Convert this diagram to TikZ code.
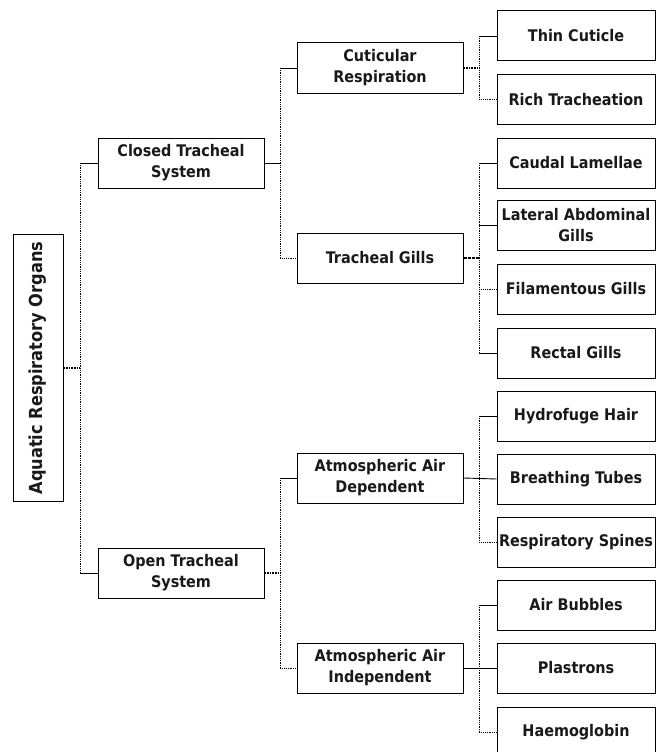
\documentclass[tikz,border=0pt]{standalone}
\usepackage{fontspec}
\setmainfont{DejaVu Sans Condensed}
\begin{document}
\begin{tikzpicture}[x=1pt,y=-1pt,
  box/.style={draw,line width=1pt,align=center,font=\bfseries\fontsize{16}{21}\selectfont,inner sep=1pt,text=black!90},
  lvl/.style={box,minimum width=166pt,minimum height=50pt},
  leaf/.style={box,minimum width=158pt,minimum height=50pt},
  solidc/.style={line width=0.9pt},
  dotc/.style={line width=0.9pt,densely dotted},
  thickdot/.style={line width=1.6pt,densely dotted},
  bus/.style={line width=0.8pt,densely dotted}]
\useasboundingbox (0,0) rectangle (656,752);
\clip (0,0) rectangle (656,752);
% root
\node[box,rotate=90,minimum width=267pt,minimum height=50pt,font=\bfseries\fontsize{18}{21}\selectfont] (root) at (38,368) {Aquatic Respiratory Organs};
% level 1
\node[lvl] (closed) at (181,163) {Closed Tracheal\\System};
\node[lvl] (open) at (181,573) {Open Tracheal\\System};
% level 2
\node[lvl] (cut) at (380,68) {Cuticular\\Respiration};
\node[lvl] (tg) at (380,258) {Tracheal Gills};
\node[lvl] (aad) at (380,478) {Atmospheric Air\\Dependent};
\node[lvl] (aai) at (380,668) {Atmospheric Air\\Independent};
% leaves
\node[leaf] (thin) at (576,36) {Thin Cuticle};
\node[leaf] (rich) at (576,99.5) {Rich Tracheation};
\node[leaf] (caud) at (576,163) {Caudal Lamellae};
\node[leaf] (lat) at (576,225.5) {Lateral Abdominal\\Gills};
\node[leaf] (fil) at (576,289) {Filamentous Gills};
\node[leaf] (rect) at (576,353) {Rectal Gills};
\node[leaf] (hyd) at (576,416) {Hydrofuge Hair};
\node[leaf] (bre) at (576,479) {Breathing Tubes};
\node[leaf] (spi) at (576,542.5) {Respiratory Spines};
\node[leaf] (air) at (576,605) {Air Bubbles};
\node[leaf] (pla) at (576,668) {Plastrons};
\node[leaf] (hae) at (576,732) {Haemoglobin};
% bus x positions
\coordinate (b1) at (80,0);
\coordinate (b2) at (280,0);
\coordinate (b3) at (479,0);
% root level
\draw[thickdot] (root.south) -- (root.south -| b1);
\draw[bus] (b1 |- closed.west) -- (b1 |- open.west);
\draw[solidc] (b1 |- closed.west) -- (closed.west);
\draw[solidc] (b1 |- open.west) -- (open.west);
% closed
\draw[solidc] (closed.east) -- (closed.east -| b2);
\draw[bus] (b2 |- cut.west) -- (b2 |- tg.west);
\draw[solidc] (b2 |- cut.west) -- (cut.west);
\draw[dotc] (b2 |- tg.west) -- (tg.west);
% open
\draw[thickdot] (open.east) -- (open.east -| b2);
\draw[bus] (b2 |- aad.west) -- (b2 |- aai.west);
\draw[solidc] (b2 |- aad.west) -- (aad.west);
\draw[dotc] (b2 |- aai.west) -- (aai.west);
% cuticular
\draw[thickdot] (cut.east) -- (cut.east -| b3);
\draw[bus] (b3 |- thin.west) -- (b3 |- rich.west);
\draw[solidc] (b3 |- thin.west) -- (thin.west);
\draw[dotc] (b3 |- rich.west) -- (rich.west);
% tracheal gills
\draw[line width=1.6pt,dashed,dash pattern=on 3pt off 1pt] (tg.east) -- (tg.east -| b3);
\draw[bus] (b3 |- caud.west) -- (b3 |- rect.west);
\draw[solidc] (b3 |- caud.west) -- (caud.west);
\draw[solidc] (b3 |- lat.west) -- (lat.west);
\draw[dotc] (b3 |- fil.west) -- (fil.west);
\draw[solidc] (b3 |- rect.west) -- (rect.west);
% dependent
\draw[solidc] (aad.east) -- (bre.west);
\draw[bus] (b3 |- hyd.west) -- (b3 |- spi.west);
\draw[solidc] (b3 |- hyd.west) -- (hyd.west);
\draw[dotc] (b3 |- spi.west) -- (spi.west);
% independent
\draw[solidc] (aai.east) -- (pla.west);
\draw[bus] (b3 |- air.west) -- (b3 |- hae.west);
\draw[solidc] (b3 |- air.west) -- (air.west);
\draw[dotc] (b3 |- hae.west) -- (hae.west);
\end{tikzpicture}
\end{document}
